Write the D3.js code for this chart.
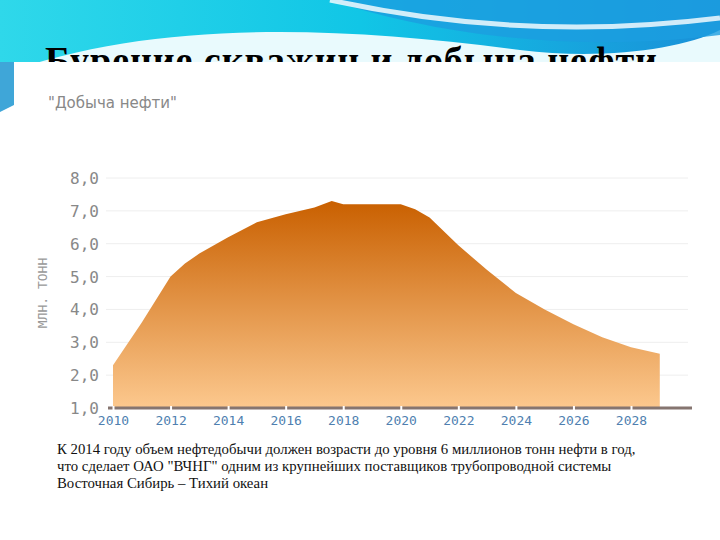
<!DOCTYPE html>
<html><head><meta charset="utf-8">
<script src="https://d3js.org/d3.v7.min.js"></script>
<style>body{margin:0;background:#fff}svg{display:block}</style>
</head><body>
<svg id="c" width="720" height="540"></svg>
<script>
const years = [2010, 2011, 2012, 2012.5, 2013, 2014, 2015, 2016, 2017, 2017.6, 2018, 2019, 2020, 2020.5, 2021, 2022, 2023, 2024, 2025, 2026, 2027, 2028, 2029];
const output = [2.3, 3.6, 5.0, 5.4, 5.7, 6.2, 6.65, 6.9, 7.1, 7.3, 7.2, 7.2, 7.2, 7.05, 6.8, 5.95, 5.2, 4.5, 4.0, 3.55, 3.15, 2.85, 2.65];
const yTicks = [1, 2, 3, 4, 5, 6, 7, 8];
const xTicks = [2010, 2012, 2014, 2016, 2018, 2020, 2022, 2024, 2026, 2028];
const note = ["К 2014 году объем нефтедобычи должен возрасти до уровня 6 миллионов тонн нефти в год,",
  "что сделает ОАО \"ВЧНГ\" одним из крупнейших поставщиков трубопроводной системы",
  "Восточная Сибирь – Тихий океан"];

const svg = d3.select("#c");
const defs = svg.append("defs");
const bg = defs.append("linearGradient").attr("id", "sky").attr("x1", 0).attr("x2", 1);
bg.append("stop").attr("offset", 0).attr("stop-color", "#2fd8ea");
bg.append("stop").attr("offset", 0.5).attr("stop-color", "#11c6e6");
bg.append("stop").attr("offset", 1).attr("stop-color", "#1a8fd8");
const fillG = defs.append("linearGradient").attr("id", "oil").attr("x1", 0).attr("x2", 0).attr("y1", 0).attr("y2", 1);
fillG.append("stop").attr("offset", 0).attr("stop-color", "#c96000");
fillG.append("stop").attr("offset", 1).attr("stop-color", "#fcc88e");

// decorative header
svg.append("rect").attr("width", 720).attr("height", 75).attr("fill", "url(#sky)");
svg.append("path").attr("d", "M0,75 C150,20 330,25 520,50 C600,60 680,50 720,30 L720,75 Z").attr("fill", "#e9fafd");
svg.append("path").attr("d", "M330,0 C420,30 560,55 720,35 L720,0 Z").attr("fill", "#1b9ee0").attr("opacity", 0.8);
svg.append("path").attr("d", "M330,0 C430,22 560,38 720,18").attr("stroke", "#fff").attr("stroke-width", 5).attr("fill", "none").attr("opacity", 0.8);
svg.append("text").attr("x", 45).attr("y", 73).attr("font-family", "Liberation Serif, serif").attr("font-weight", "bold")
  .attr("font-size", 38).attr("textLength", 612).attr("fill", "#000").text("Бурение скважин и добыча нефти");
svg.append("rect").attr("x", 14).attr("y", 62).attr("width", 706).attr("height", 478).attr("fill", "#fff");
svg.append("path").attr("d", "M0,62 L14,62 L14,105 L0,112 Z").attr("fill", "#3fa6d8");

svg.append("text").attr("x", 48).attr("y", 108).attr("font-family", "DejaVu Sans, sans-serif")
  .attr("font-size", 15).attr("fill", "#888").text("\"Добыча нефти\"");

const x = d3.scaleLinear().domain([2010, 2028]).range([113, 631]);
const y = d3.scaleLinear().domain([1, 8]).range([408, 178]);

svg.append("g").selectAll("line").data(yTicks.slice(1)).join("line")
  .attr("x1", 106).attr("x2", 688).attr("y1", d => y(d)).attr("y2", d => y(d))
  .attr("stroke", "#eee");

const area = d3.area().x((d, i) => x(years[i])).y0(y(1)).y1(d => y(d));
svg.append("path").datum(output).attr("d", area).attr("fill", "url(#oil)");

svg.append("g").selectAll("text").data(yTicks).join("text")
  .attr("x", 99).attr("y", d => y(d) + 6).attr("text-anchor", "end")
  .attr("font-family", "DejaVu Sans Mono, monospace").attr("font-size", 16).attr("fill", "#888")
  .text(d => d.toFixed(1).replace(".", ","));
svg.append("text").attr("transform", `translate(47,${y(4.5)}) rotate(-90)`).attr("text-anchor", "middle")
  .attr("font-family", "DejaVu Sans Mono, monospace").attr("font-size", 13).attr("fill", "#999").text("МЛН. ТОНН");

const xa = svg.append("g").attr("transform", `translate(0,${y(1)})`)
  .call(d3.axisBottom(x).tickValues(xTicks).tickFormat(d3.format("d")).tickSize(0).tickPadding(8));
xa.select(".domain").remove();
xa.insert("line", ":first-child").attr("x1", 108).attr("x2", 692).attr("stroke", "#857570").attr("stroke-width", 3);
xa.selectAll(".tick").append("line").attr("y1", -2).attr("y2", 2).attr("stroke", "#fff").attr("stroke-width", 2);
xa.selectAll("text").attr("font-family", "DejaVu Sans Mono, monospace").attr("font-size", 13).attr("fill", "#4f7fb0");

svg.append("g").selectAll("text").data(note).join("text")
  .attr("x", 57).attr("y", (d, i) => 454 + i * 17)
  .attr("font-family", "Liberation Serif, serif").attr("font-size", 14.8).attr("fill", "#111").text(d => d);
</script>
</body></html>
